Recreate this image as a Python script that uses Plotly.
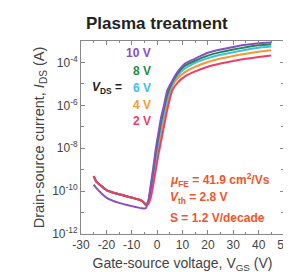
import plotly.graph_objects as go

vgs = [-25, -24, -20, -15, -10, -6, -4.5, -3.5, -2.5, -1.5, -0.5, 0.5, 1.5, 2.5, 4, 6, 8, 11, 15, 20, 25, 30, 35, 40, 45]

# log10(I_DS / A)
log_ids_2V = [-9.3, -9.55, -9.95, -10.15, -10.3, -10.45, -10.6, -10.6, -10.3, -9.7, -9.0, -8.3, -7.7, -7.1, -6.2, -5.3, -4.95, -4.65, -4.42, -4.2, -4.05, -3.93, -3.83, -3.75, -3.68]
log_ids_4V = [-9.3, -9.55, -9.95, -10.15, -10.3, -10.45, -10.6, -10.55, -10.1, -9.4, -8.7, -8.0, -7.3, -6.7, -5.9, -5.1, -4.75, -4.45, -4.2, -3.98, -3.82, -3.7, -3.59, -3.5, -3.43]
log_ids_6V = [-9.3, -9.55, -9.95, -10.15, -10.3, -10.45, -10.62, -10.5, -9.95, -9.2, -8.4, -7.7, -7.0, -6.45, -5.65, -5.0, -4.62, -4.28, -4.02, -3.8, -3.64, -3.52, -3.41, -3.32, -3.26]
log_ids_8V = [-9.3, -9.55, -9.95, -10.15, -10.3, -10.45, -10.65, -10.5, -9.85, -9.05, -8.2, -7.5, -6.8, -6.25, -5.5, -4.92, -4.52, -4.15, -3.92, -3.68, -3.52, -3.4, -3.29, -3.2, -3.15]
log_ids_10V = [-9.7, -9.85, -10.3, -10.55, -10.7, -10.8, -10.8, -10.5, -9.7, -8.9, -8.0, -7.3, -6.6, -6.1, -5.3, -4.85, -4.45, -4.05, -3.82, -3.55, -3.4, -3.28, -3.18, -3.11, -3.07]

series = [
    ("4 V", log_ids_4V, "#f59a2e"),
    ("6 V", log_ids_6V, "#3cc0ea"),
    ("8 V", log_ids_8V, "#1f8a4c"),
    ("10 V", log_ids_10V, "#8a4fc0"),
    ("2 V", log_ids_2V, "#ee3d6b"),
]

x_ticks = [-30, -20, -10, 0, 10, 20, 30, 40, 50]
x_labels = ["-30", "-20", "-10", "0", "10", "20", "30", "40", "50"]
y_major_exps = [-12, -10, -8, -6, -4]
y_labels = ["10<sup>-12</sup>", "10<sup>-10</sup>", "10<sup>-8</sup>", "10<sup>-6</sup>", "10<sup>-4</sup>"]
y_minor_exps = [-11, -9, -7, -5, -3]

fig = go.Figure()
for name, logs, color in series:
    fig.add_trace(go.Scatter(x=vgs, y=[10 ** v for v in logs], mode="lines", name=name,
                             line=dict(color=color, width=2, shape="spline", smoothing=0.4)))

font = "Liberation Sans, Arial, sans-serif"
fig.update_layout(
    width=291, height=272,
    margin=dict(l=73, r=8, t=33, b=46),
    paper_bgcolor="white", plot_bgcolor="white",
    showlegend=False,
    font=dict(family=font, color="#333"),
)
fig.update_xaxes(range=[-30, 50], tickvals=x_ticks, ticktext=x_labels, ticks="inside", ticklen=4,
                 tickfont=dict(size=12, color="#444"), showgrid=False, zeroline=False,
                 showline=True, linecolor="#888", linewidth=1, mirror="allticks",
                 minor=dict(ticks="inside", ticklen=2, dtick=5, tickcolor="#888"),
                 tickcolor="#888",
                 title=dict(text="Gate-source voltage, V<sub>GS</sub> (V)", font=dict(size=14, color="#444"), standoff=6))
fig.update_yaxes(type="log", range=[-12, -3], tickvals=[10 ** e for e in y_major_exps], ticktext=y_labels,
                 ticks="inside", ticklen=4, tickcolor="#888",
                 minor=dict(ticks="inside", ticklen=3, tickcolor="#888", tickmode="array",
                            tickvals=[10 ** e for e in y_minor_exps]),
                 tickfont=dict(size=12, color="#444"), showgrid=False, zeroline=False,
                 showline=True, linecolor="#888", linewidth=1, mirror="allticks",
                 title=dict(text="Drain-source current, <i>I</i><sub>DS</sub> (A)", font=dict(size=14.5, color="#444"), standoff=4))

fig.add_annotation(text="<b>Plasma treatment</b>", xref="paper", yref="paper", x=0.376, y=1.0,
                   yshift=18, showarrow=False, font=dict(size=17, color="#222"), xanchor="center", yanchor="middle")

labels = [("10 V", -3.54, "#8a4fc0"), ("8 V", -4.38, "#1f8a4c"), ("6 V", -5.18, "#3cc0ea"),
          ("4 V", -5.97, "#f59a2e"), ("2 V", -6.72, "#ee3d6b")]
for txt, yy, c in labels:
    fig.add_annotation(text="<b>%s</b>" % txt, x=-1.8, y=yy, xanchor="right", yanchor="middle",
                       showarrow=False, font=dict(size=12, color=c))
fig.add_annotation(text="<b><i>V</i><sub>DS</sub> =</b>", x=-13.2, y=-5.18, xanchor="right", yanchor="middle",
                   showarrow=False, font=dict(size=12, color="#222"))

red = "#f2552c"
for txt, yy in [("<b><i>μ</i><sub>FE</sub> = 41.9 cm<sup>2</sup>/Vs</b>", -9.48),
                ("<b><i>V</i><sub>th</sub> = 2.8 V</b>", -10.32),
                ("<b>S = 1.2 V/decade</b>", -11.25)]:
    fig.add_annotation(text=txt, x=4.3, y=yy, xanchor="left", yanchor="middle",
                       showarrow=False, font=dict(size=12, color=red))

fig.write_html("out.html")
